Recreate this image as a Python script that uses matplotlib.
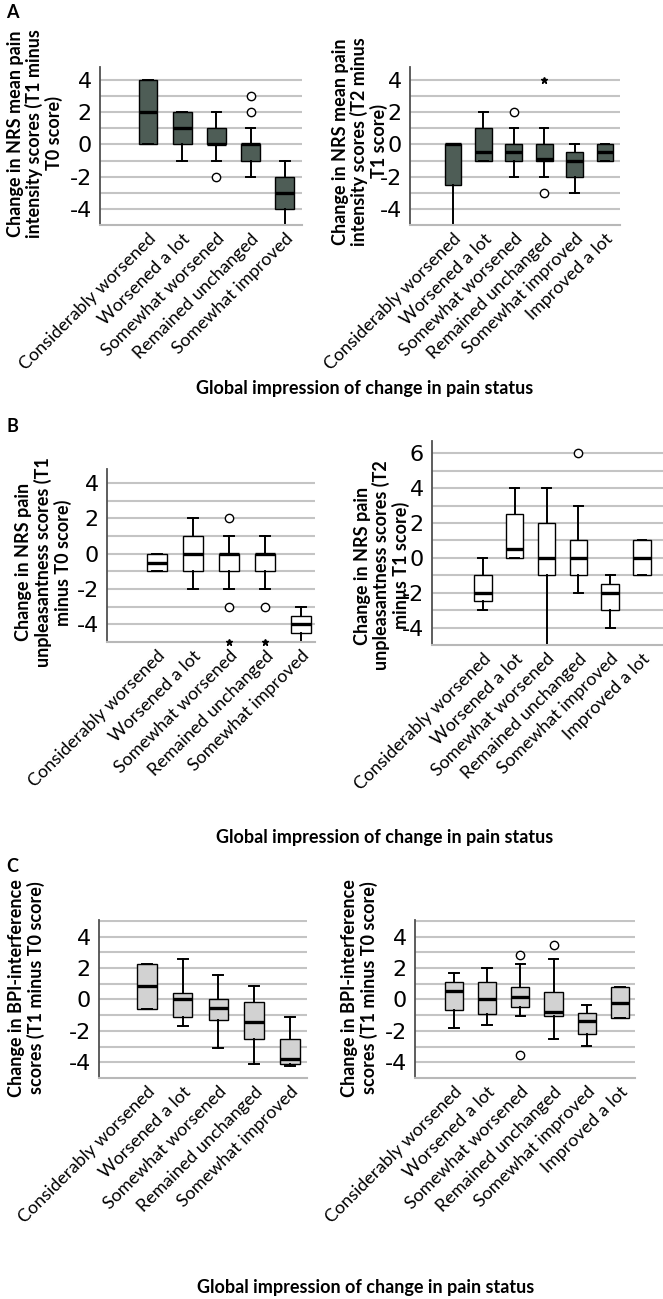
import matplotlib.pyplot as plt

W, H = 663, 1299

cats = ['Considerably worsened', 'Worsened a lot', 'Somewhat worsened',
        'Remained unchanged', 'Somewhat improved', 'Improved a lot']

# each box: [whisker low, q1, median, q3, whisker high]
a1_box = [[0, 0, 2, 4, 4], [-1, 0, 1, 2, 2], [-1, 0, 0, 1, 2],
          [-2, -1, 0, 0, 1], [-5, -4, -3, -2, -1]]
a1_out = [[], [], [-2], [2, 3], []]
a1_ext = [[], [], [], [], []]

a2_box = [[-5, -2.5, 0, 0, 0], [-1, -1, -0.5, 1, 2], [-2, -1, -0.5, 0, 1],
          [-2, -1, -0.9, 0, 1], [-3, -2, -1, -0.5, 0], [-1, -1, -0.5, 0, 0]]
a2_out = [[], [], [2], [-3], [], []]
a2_ext = [[], [], [], [4], [], []]

b1_box = [[-1, -1, -0.5, 0, 0], [-2, -1, 0, 1, 2], [-2, -1, 0, 0, 1],
          [-2, -1, 0, 0, 1], [-5, -4.5, -4, -3.5, -3]]
b1_out = [[], [], [2, -3], [-3], []]
b1_ext = [[], [], [-5], [-5], []]

b2_box = [[-3, -2.5, -2, -1, 0], [0, 0, 0.5, 2.5, 4], [-5, -1, 0, 2, 4],
          [-2, -1, 0, 1, 3], [-4, -3, -2, -1.5, -1], [-1, -1, 0, 1, 1]]
b2_out = [[], [], [], [6], [], []]
b2_ext = [[], [], [], [], [], []]

c1_box = [[-0.6, -0.6, 0.85, 2.25, 2.25], [-1.7, -1.1, 0.05, 0.4, 2.6],
          [-3.1, -1.3, -0.55, 0.0, 1.55], [-4.1, -2.55, -1.45, -0.15, 0.85],
          [-4.25, -4.1, -3.8, -2.5, -1.1]]
c1_out = [[], [], [], [], []]
c1_ext = [[], [], [], [], []]

c2_box = [[-1.8, -0.65, 0.55, 1.1, 1.7], [-1.65, -0.95, 0.05, 1.1, 2.0],
          [-1.05, -0.5, 0.15, 0.8, 2.25], [-2.55, -1.05, -0.8, 0.5, 2.55],
          [-2.95, -2.2, -1.4, -0.85, -0.35], [-1.2, -1.2, -0.2, 0.8, 0.8]]
c2_out = [[], [], [2.85, -3.55], [3.45], [], []]
c2_ext = [[], [], [], [], [], []]

NARROW = ['Liberation Sans Narrow', 'DejaVu Sans']
CAL = ['Lato', 'DejaVu Sans']

fig = plt.figure(figsize=(W / 100, H / 100), dpi=100)


def make_ax(x0, x1, y0, y1):
    # pixel box -> figure fractions
    return fig.add_axes([x0 / W, 1 - y1 / H, (x1 - x0) / W, (y1 - y0) / H])


def draw(ax, box, out, ext, face, xlim, ylim, yticks, ylabel, lab_xy):
    n = len(box)
    stats = []
    for i, (lo, q1, med, q3, hi) in enumerate(box):
        stats.append(dict(whislo=lo, q1=q1, med=med, q3=q3, whishi=hi, fliers=out[i]))
    ax.bxp(stats, positions=range(1, n + 1), widths=0.55, patch_artist=True,
           capwidths=0.28,
           boxprops=dict(facecolor=face, edgecolor='black', linewidth=1),
           medianprops=dict(color='black', linewidth=2.4),
           whiskerprops=dict(color='black', linewidth=1.4),
           capprops=dict(color='black', linewidth=1.4),
           flierprops=dict(marker='o', markerfacecolor='white', markeredgecolor='black',
                           markersize=6, markeredgewidth=1))
    # extreme values (asterisks)
    for i, vals in enumerate(ext):
        for v in vals:
            ax.plot(i + 1, v, marker='*', color='black', markersize=5,
                    clip_on=False, zorder=6)
    ax.set_xlim(*xlim)
    ax.set_ylim(*ylim)
    ax.set_yticks(yticks)
    odd = [k for k in range(-5, 8, 2) if ylim[0] < k <= ylim[1]]
    ax.set_yticks(odd, minor=True)
    ax.set_yticklabels([str(t) for t in yticks], fontsize=16, family=NARROW)
    ax.set_xticks(range(1, n + 1))
    ax.set_xticklabels(cats[:n], rotation=45, ha='right', rotation_mode='anchor',
                       fontsize=13, family=CAL)
    ax.tick_params(length=0, which='both')
    ax.tick_params(axis='y', pad=6)
    ax.tick_params(axis='x', pad=4)
    ax.grid(axis='y', which='both', color='#c4c4c4', linewidth=1.5)
    ax.set_axisbelow(True)
    for s in ['top', 'right']:
        ax.spines[s].set_visible(False)
    ax.spines['left'].set_color('#505050')
    ax.spines['left'].set_linewidth(1.3)
    ax.spines['bottom'].set_color('#b8b8b8')
    ax.spines['bottom'].set_linewidth(1.5)
    ax.set_ylabel(ylabel, fontsize=13, fontweight='bold', family=CAL, linespacing=1.1)
    ax.yaxis.set_label_coords(*lab_xy)


dark = '#4e5d56'
light = '#d2d2d2'

ax = make_ax(100, 302, 67, 225)
draw(ax, a1_box, a1_out, a1_ext, dark, (-0.4, 5.5), (-5, 4.8), [-4, -2, 0, 2, 4],
     'Change in NRS mean pain\nintensity scores (T1 minus\nT0 score)', (-0.183, 0.58))
ax = make_ax(410, 620, 67, 225)
draw(ax, a2_box, a2_out, a2_ext, dark, (-0.41, 6.49), (-5, 4.8), [-4, -2, 0, 2, 4],
     'Change in NRS mean pain\nintensity scores (T2 minus\nT1 score)', (-0.105, 0.53))

ax = make_ax(107, 315, 469, 642)
draw(ax, b1_box, b1_out, b1_ext, 'white', (-0.39, 5.39), (-5, 4.8), [-4, -2, 0, 2, 4],
     'Change in NRS pain\nunpleasantness scores (T1\nminus T0 score)', (-0.17, 0.46))
ax = make_ax(432, 663, 441, 645)
draw(ax, b2_box, b2_out, b2_ext, 'white', (-0.6, 6.66), (-5, 6.7), [-4, -2, 0, 2, 4, 6],
     'Change in NRS pain\nunpleasantness scores (T2\nmin\u03bcs T1 score)', (-0.095, 0.39))

ax = make_ax(99, 307, 920, 1078)
draw(ax, c1_box, c1_out, c1_ext, light, (-0.34, 5.48), (-5, 5.05), [-4, -2, 0, 2, 4],
     'Change in BPI-interference\nscores (T1 minus T0 score)', (-0.26, 0.57))
ax = make_ax(415, 635, 920, 1078)
draw(ax, c2_box, c2_out, c2_ext, light, (-0.17, 6.45), (-5, 5.05), [-4, -2, 0, 2, 4],
     'Change in BPI-interference\nscores (T1 minus T0 score)', (-0.17, 0.57))

for letter, yy in [('A', 12), ('B', 427), ('C', 866)]:
    fig.text(6 / W, 1 - yy / H, letter, fontsize=13, fontweight='bold', family=CAL,
             ha='left', va='center')

for xx, yy in [(365, 388), (385, 838), (366, 1287)]:
    fig.text(xx / W, 1 - yy / H, 'Global impression of change in pain status',
             fontsize=13, fontweight='bold', family=CAL, ha='center', va='center')

fig.savefig('out.png', dpi=100)
